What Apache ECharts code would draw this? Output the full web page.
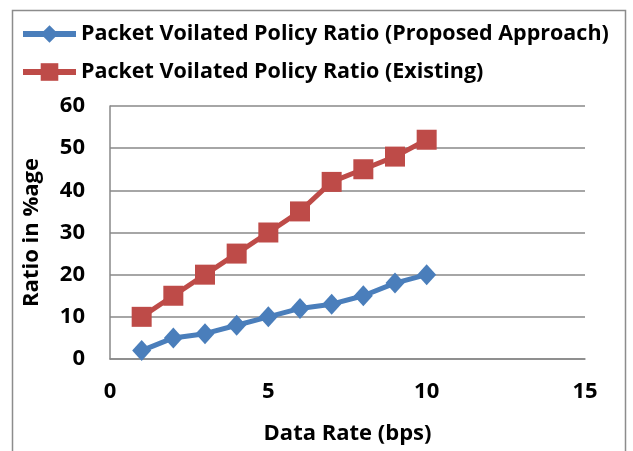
<!DOCTYPE html>
<html><head><meta charset="utf-8">
<script src="https://cdn.jsdelivr.net/npm/echarts@6/dist/echarts.min.js"></script>
<style>html,body{margin:0;padding:0;background:#fff}#c{width:633px;height:451px}</style>
</head><body><div id="c"></div>
<script>
const dataRate = [1,2,3,4,5,6,7,8,9,10];
const proposed = [2,5,6,8,10,12,13,15,18,20];
const existing = [10,15,20,25,30,35,42,45,48,52];
const seriesNames = ['Packet Voilated Policy Ratio (Proposed Approach)','Packet Voilated Policy Ratio (Existing)'];
const font = 'Open Sans';
const chart = echarts.init(document.getElementById('c'));
chart.setOption({
  animation:false,
  graphic:[{type:'rect',shape:{x:12.5,y:10.5,width:613,height:460},style:{fill:'none',stroke:'#8c8c8c',lineWidth:1.5},z:-1}],
  legend:{orient:'vertical',left:20,top:23,padding:0,itemGap:16,itemWidth:53,itemHeight:22,
    lineStyle:{width:6},
    textStyle:{fontFamily:font,fontWeight:'bold',fontSize:21.5,color:'#000'},
    data:seriesNames},
  grid:{left:110,right:48,top:106,bottom:92},
  xAxis:{type:'value',min:0,max:15,interval:5,name:'Data Rate (bps)',nameLocation:'middle',nameGap:64,
    nameTextStyle:{fontFamily:font,fontWeight:'bold',fontSize:22,color:'#000'},
    axisLine:{show:true,lineStyle:{color:'#888',width:1.5}},axisTick:{show:false},splitLine:{show:false},
    axisLabel:{fontFamily:font,fontWeight:'bold',fontSize:22,color:'#000',margin:22}},
  yAxis:{type:'value',min:0,max:60,interval:10,name:'Ratio in %age',nameLocation:'middle',nameGap:67,
    nameTextStyle:{fontFamily:font,fontWeight:'bold',fontSize:22,color:'#000'},
    axisLine:{show:true,lineStyle:{color:'#888',width:1.5}},axisTick:{show:false},
    splitLine:{lineStyle:{color:'#888',width:1.5}},
    axisLabel:{fontFamily:font,fontWeight:'bold',fontSize:22,color:'#000',margin:25}},
  series:[
    {name:seriesNames[0],type:'line',data:dataRate.map((x,i)=>[x,proposed[i]]),symbol:'diamond',symbolSize:[19,21],
     lineStyle:{color:'#4a7ebb',width:5},itemStyle:{color:'#4a7ebb'}},
    {name:seriesNames[1],type:'line',data:dataRate.map((x,i)=>[x,existing[i]]),symbol:'rect',symbolSize:20,
     lineStyle:{color:'#be4b48',width:5},itemStyle:{color:'#be4b48'}}
  ]
});
</script></body></html>
